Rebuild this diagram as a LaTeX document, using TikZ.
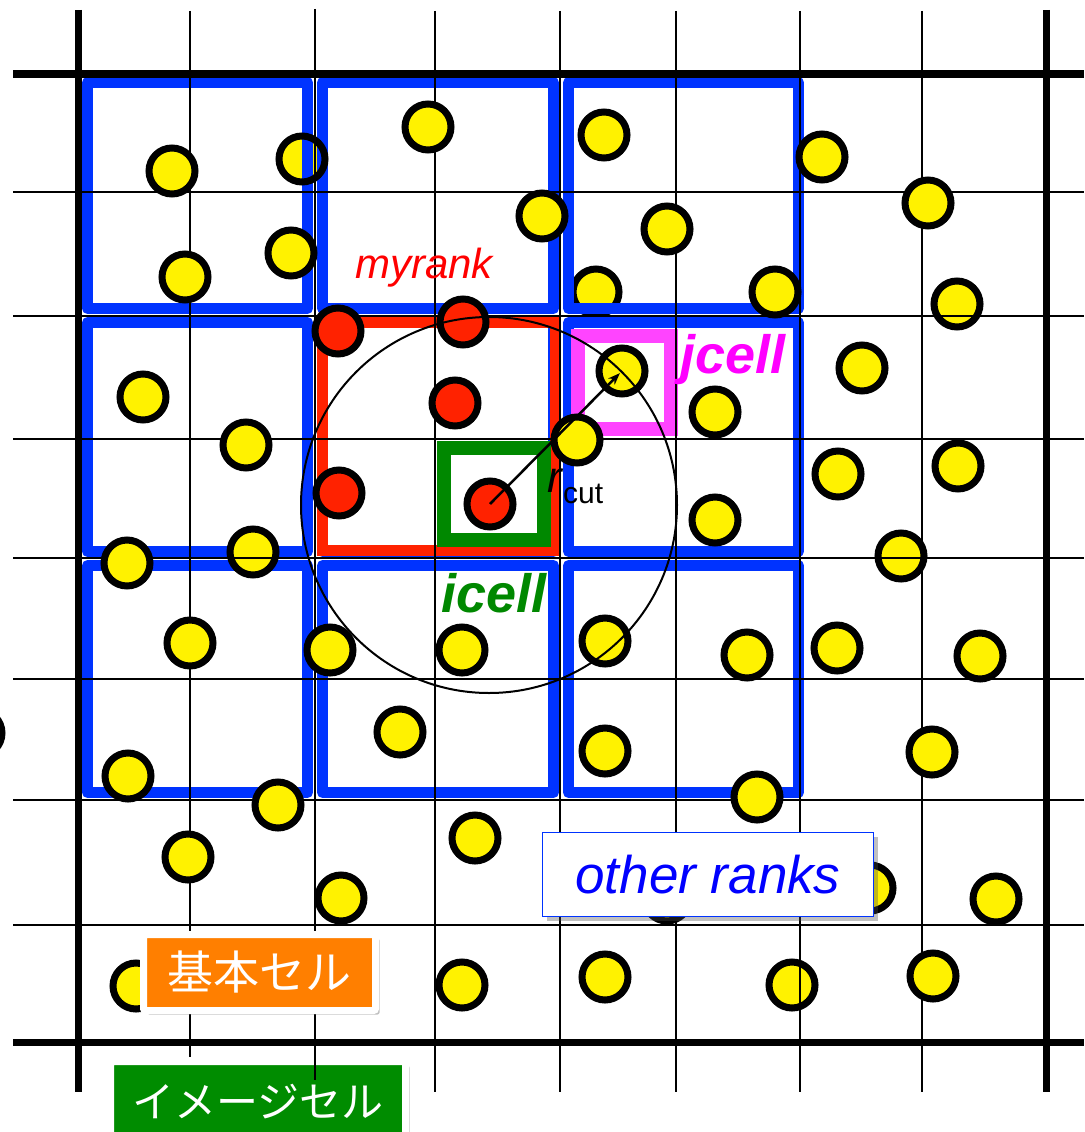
\documentclass[tikz,border=0pt]{standalone}
\usepackage{fontspec}
\setmainfont{Liberation Sans}
\newfontfamily\jpfont{Noto Sans CJK JP}
\usetikzlibrary{arrows.meta,shadows}
\definecolor{rankblue}{HTML}{0033FF}
\definecolor{textblue}{HTML}{0000FF}
\definecolor{myred}{HTML}{FF2200}
\definecolor{icgreen}{HTML}{008800}
\definecolor{jcmag}{HTML}{FF44FF}
\definecolor{jctext}{HTML}{FF00FF}
\definecolor{tagorange}{HTML}{FF7F00}
\definecolor{taggreen}{HTML}{008C00}
\tikzset{
  gridthin/.style={line width=2.2pt, draw=black},
  gridthick/.style={line width=7pt, draw=black},
  rankbox/.style={draw=rankblue, line width=11pt, line join=round},
  particle/.style={circle, draw=black, line width=7pt, fill=yellow, minimum size=46pt, inner sep=0pt},
  redparticle/.style={particle, fill=myred},
  tagshadow/.style={drop shadow={shadow xshift=4pt, shadow yshift=-4pt, opacity=0.35, fill=black!70}},
  tagbox/.style={draw=white, line width=7pt, inner sep=0pt, rounded corners=2pt, tagshadow},
}
\begin{document}
\begin{tikzpicture}[x=1pt,y=-1pt]
\useasboundingbox (0,0) rectangle (1084,1132);
\fill[white] (0,0) rectangle (1084,1132);

% particles (partly) hidden under rank boxes
\node[particle] (pa1) at (596,292) {};
\node[particle, draw=none] (pa2) at (302,159) {};

% rank boxes
\foreach \xa/\xb in {87.5/307.5, 322.5/553.5, 568.5/798.5}
  \foreach \ya/\yb in {82.5/308.5, 322.5/551.5, 565.5/792.5}
    \draw[rankbox] (\xa,\ya) rectangle (\xb,\yb);
\draw[draw=myred, line width=11pt] (322.5,322.5) rectangle (555.5,550.5);
\draw[draw=icgreen, line width=14pt] (444,448) rectangle (544,540);
\draw[draw=jcmag, line width=14pt] (578,336) rectangle (671,429);

% particles under grid lines
\foreach \x/\y [count=\i] in {957/304, 901/556, 253/552, 128/776, 792/985}
  \node[particle] (pb\i) at (\x,\y) {};

% grid
\foreach \y in {192,316,439,558,679,800,925}
  \draw[gridthin] (13,\y) -- (1084,\y);
\draw[gridthick] (13,74) -- (1084,74);
\draw[gridthick] (13,1042) -- (1084,1042);
\foreach \x in {435,560,676,800,922}
  \draw[gridthin] (\x,11) -- (\x,1092);
\draw[gridthin] (190,11) -- (190,1057);
\draw[gridthin] (315,9) -- (315,1080);
\draw[gridthick] (78,10) -- (78,1092);
\draw[gridthick] (1046,10) -- (1046,1092);

% ring of the particle whose fill lies under the box
\node[particle, fill=none] (pa2r) at (302,159) {};

% particles over grid
\foreach \x/\y [count=\i] in {
  172/171, 185/277, 291/253, 428/127, 542/216, 604/135, 667/229, 775/292, 822/157, 928/203,
  143/397, 246/445, 715/412, 862/368, 838/474, 958/466, 715/520, 577/440,
  127/563, 190/643, 330/650, 462/650, 605/641, 747/655, 837/648, 980/656,
  400/732, 605/751, 932/752, 757/797, 278/805, 188/857, 475/838, 341/898, 667/898, 870/888, 996/899,
  136/986, 462/985, 605/977, 933/976, -21/733}
  \node[particle] (pc\i) at (\x,\y) {};
\node[particle] (pj) at (622,371) {};

% red particles (myrank)
\foreach \x/\y [count=\i] in {338/331, 463/322, 455/403, 339/493}
  \node[redparticle] (pr\i) at (\x,\y) {};
\node[redparticle] (pi) at (490,504) {};

% cutoff circle and arrow
\node[circle, draw=black, line width=2pt, minimum size=376pt, inner sep=0pt] (rc) at (489,505) {};
\draw[line width=2.5pt, -{Stealth[length=12pt,width=9pt]}, shorten >=3pt] (pi.center) -- (pj.center);

% labels
\node[font=\fontsize{42pt}{48pt}\selectfont\itshape, text=red, anchor=base west, inner sep=0pt] (myrank) at (355,278) {myrank};
\node[font=\fontsize{54pt}{60pt}\selectfont\bfseries\itshape, text=jctext, anchor=base west, inner sep=0pt] (jcell) at (680,373) {jcell};
\node[font=\fontsize{54pt}{60pt}\selectfont\bfseries\itshape, text=icgreen, anchor=base west, inner sep=0pt] (icell) at (441,612) {icell};
\node[font=\fontsize{44pt}{48pt}\selectfont\itshape, anchor=base west, inner sep=0pt] (rlab) at (547,492) {r};
\node[font=\fontsize{30pt}{34pt}\selectfont, anchor=base west, inner sep=0pt] (cutlab) at (563,503) {cut};

\node[tagbox, fill=tagorange, minimum width=232pt, minimum height=76pt] (kihon) at (259.5,972.5)
  {\jpfont\fontsize{46pt}{50pt}\selectfont\color{white}基本セル};
\node[tagbox, fill=taggreen, minimum width=295pt, minimum height=80pt] (imagecell) at (258,1101.5)
  {\jpfont\fontsize{42pt}{46pt}\selectfont\color{white}イメージセル};
\node[draw=rankblue, line width=1.5pt, fill=white, minimum width=331pt, minimum height=84pt, inner sep=0pt,
  tagshadow] (other) at (708,874.5)
  {\fontsize{53pt}{58pt}\selectfont\itshape\color{textblue}other ranks};

% the grid line that shows over the top of the image-cell label
\draw[gridthin] (imagecell.north -| 315,0) ++(0,-4) -- (315,1080);
\end{tikzpicture}
\end{document}
